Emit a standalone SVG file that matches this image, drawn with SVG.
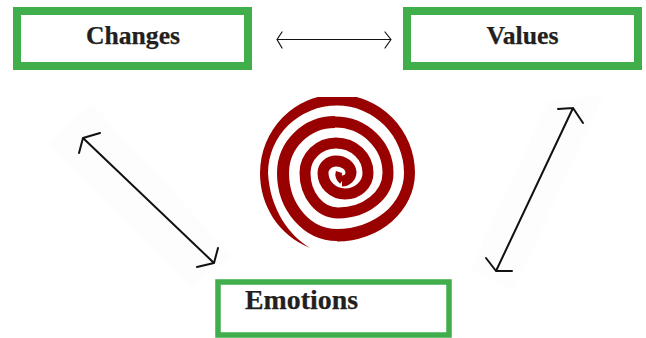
<svg xmlns="http://www.w3.org/2000/svg" width="646" height="338" viewBox="0 0 646 338">
<style>
.box{fill:#fff;stroke:#3fae4b}
.label{font-family:"Liberation Serif",serif;font-weight:700;fill:#231f20;stroke:#231f20;stroke-width:.25}
.arrow{fill:none;stroke:#111;stroke-linecap:round;stroke-linejoin:round}
.patch{fill:#fdfdfd}
</style>
<defs><clipPath id="cut"><rect x="240" y="97" width="200" height="170"/></clipPath></defs>
<rect width="646" height="338" fill="#fff"/>
<polygon class="patch" points="47,143 92,104 232,256 190,288"/>
<polygon class="patch" points="548,102 604,94 514,290 470,270"/>
<g id="spiral" clip-path="url(#cut)">
<path d="M337,235A54,62 0 0 1 283,173A52,51 0 0 1 335,122" fill="none" stroke="#990000" stroke-width="12"/>
<path d="M335,122A53,51 0 0 1 388,173A50,40 0 0 1 338,213A33,40 0 0 1 305,173A31,30 0 0 1 336,143A32,30 0 0 1 368,173A23,21 0 0 1 345,194A22,21 0 0 1 323,173A13,12 0 0 1 336,161A15,12 0 0 1 351,172A9,9 0 0 1 342,181" fill="none" stroke="#990000" stroke-width="11"/>
<path d="M342,181A8,8 0 0 1 339,172" fill="none" stroke="#990000" stroke-width="6.5"/>
<path d="M337,94.5A78,78.5 0 0 1 415,173A78,69 0 0 1 337,241.5L337,229A67,56 0 0 0 404,173A67,67.5 0 0 0 337,105.5Z" fill="#990000"/>
<path d="M337,94.5A77,78.5 0 0 0 260,173C260,205 278,235 310,248C290,236 270,210 268,173A69,67.5 0 0 1 337,105.5Z" fill="#990000"/>
</g>
<g id="connectors">
<path class="arrow" stroke-width="1.2" d="M277,39.5H391M282,32L277,39.5L282,48M385,32L391,39.5L385,48"/>
<path class="arrow" stroke-width="2" d="M83,138L214,263M100,133L83,138L79,153M218,248L214,263L197,267"/>
<path class="arrow" stroke-width="2" d="M573,108L496,271M558,109L573,108L583,123M486,258L496,271L512,271"/>
</g>
<g id="changes">
<rect class="box" x="17" y="11" width="231" height="55" stroke-width="8"/>
<text class="label" x="133" y="44" font-size="25" text-anchor="middle" textLength="94" lengthAdjust="spacingAndGlyphs">Changes</text>
</g>
<g id="values">
<rect class="box" x="407" y="11" width="231" height="55" stroke-width="8"/>
<text class="label" x="522.5" y="44" font-size="25" text-anchor="middle" textLength="72" lengthAdjust="spacingAndGlyphs">Values</text>
</g>
<g id="emotions">
<rect class="box" x="218" y="282" width="231" height="53" stroke-width="5.5"/>
<text class="label" x="245" y="309" font-size="27" textLength="113" lengthAdjust="spacingAndGlyphs">Emotions</text>
</g>
</svg>
